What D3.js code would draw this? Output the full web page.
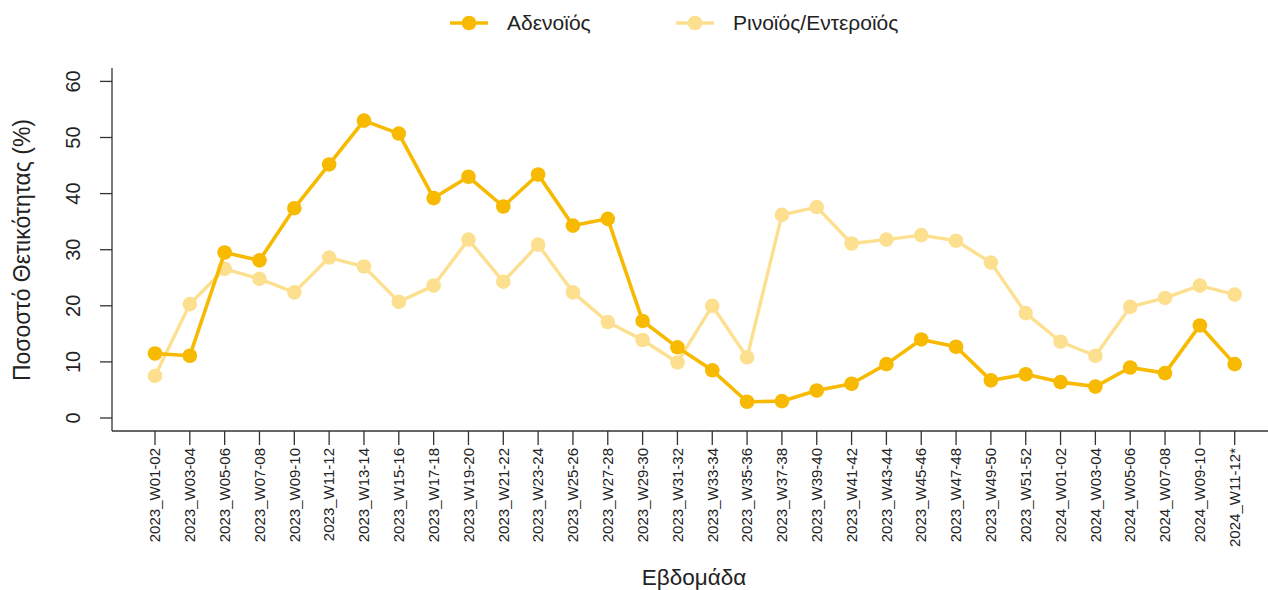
<!DOCTYPE html>
<html>
<head>
<meta charset="utf-8">
<script src="https://cdn.jsdelivr.net/npm/d3@7"></script>
<style>
  html, body { margin: 0; padding: 0; background: #fff; }
  svg { display: block; font-family: "Liberation Sans", Arial, sans-serif; }
</style>
</head>
<body>
<svg id="chart" width="1268" height="590"></svg>
<script>
const weeks = [
  "2023_W01-02","2023_W03-04","2023_W05-06","2023_W07-08","2023_W09-10","2023_W11-12",
  "2023_W13-14","2023_W15-16","2023_W17-18","2023_W19-20","2023_W21-22","2023_W23-24",
  "2023_W25-26","2023_W27-28","2023_W29-30","2023_W31-32","2023_W33-34","2023_W35-36",
  "2023_W37-38","2023_W39-40","2023_W41-42","2023_W43-44","2023_W45-46","2023_W47-48",
  "2023_W49-50","2023_W51-52","2024_W01-02","2024_W03-04","2024_W05-06","2024_W07-08",
  "2024_W09-10","2024_W11-12*"
];
const adeno = [11.5, 11.1, 29.5, 28.1, 37.4, 45.2, 53.0, 50.7, 39.2, 43.0, 37.7, 43.4,
  34.3, 35.5, 17.3, 12.6, 8.5, 2.9, 3.0, 4.9, 6.1, 9.6, 14.0, 12.7, 6.7, 7.8, 6.4, 5.6,
  9.0, 8.0, 16.5, 9.6];
const rhino = [7.5, 20.3, 26.6, 24.8, 22.4, 28.6, 27.0, 20.7, 23.6, 31.8, 24.3, 30.9,
  22.4, 17.1, 13.9, 9.9, 20.0, 10.8, 36.2, 37.6, 31.1, 31.8, 32.6, 31.6, 27.7, 18.7,
  13.6, 11.1, 19.8, 21.4, 23.6, 22.0];
const yTicks = [0, 10, 20, 30, 40, 50, 60];
const seriesNames = ["Αδενοϊός", "Ρινοϊός/Εντεροϊός"];
const yTitle = "Ποσοστό Θετικότητας (%)";
const xTitle = "Εβδομάδα";

const colors = ["#F7BA00", "#FDE08F"];
const series = [
  { name: seriesNames[1], values: rhino, color: colors[1], width: 3.4, r: 7.3 },
  { name: seriesNames[0], values: adeno, color: colors[0], width: 3.6, r: 7.3 }
];

const svg = d3.select("#chart");
const axisColor = "#333";

// scales
const x = d3.scalePoint().domain(weeks).range([155, 1234.7]);
const y = d3.scaleLinear().domain([0, 60]).range([418, 81.4]);

// y axis
const yAxisG = svg.append("g").attr("transform", "translate(112,0)");
yAxisG.append("line").attr("x1", 0).attr("x2", 0).attr("y1", 68).attr("y2", 431)
  .attr("stroke", axisColor).attr("stroke-width", 1.3);
yAxisG.selectAll("line.tick").data(yTicks).join("line").attr("class", "tick")
  .attr("x1", -12).attr("x2", 0)
  .attr("y1", d => y(d)).attr("y2", d => y(d))
  .attr("stroke", axisColor).attr("stroke-width", 1.3);
yAxisG.selectAll("text").data(yTicks).join("text")
  .attr("transform", d => `translate(-39,${y(d)}) rotate(-90)`)
  .attr("text-anchor", "middle")
  .attr("dy", "0.35em")
  .attr("font-size", 20)
  .attr("fill", "#222")
  .text(d => d);

// x axis
const xAxisG = svg.append("g").attr("transform", "translate(0,431)");
xAxisG.append("line").attr("x1", 112).attr("x2", 1268).attr("y1", 0).attr("y2", 0)
  .attr("stroke", axisColor).attr("stroke-width", 1.3);
xAxisG.selectAll("line.tick").data(weeks).join("line").attr("class", "tick")
  .attr("x1", d => x(d)).attr("x2", d => x(d))
  .attr("y1", 0).attr("y2", 14)
  .attr("stroke", axisColor).attr("stroke-width", 1.3);
xAxisG.selectAll("text").data(weeks).join("text")
  .attr("transform", d => `translate(${x(d)},17) rotate(-90)`)
  .attr("text-anchor", "end")
  .attr("dy", "0.35em")
  .attr("font-size", 15)
  .attr("fill", "#222")
  .text(d => d);

// titles
svg.append("text")
  .attr("transform", "translate(22,250) rotate(-90)")
  .attr("text-anchor", "middle")
  .attr("dy", "0.35em")
  .attr("font-size", 23)
  .attr("fill", "#222")
  .text(yTitle);
svg.append("text")
  .attr("x", 694).attr("y", 585)
  .attr("text-anchor", "middle")
  .attr("font-size", 22.5)
  .attr("fill", "#222")
  .text(xTitle);

// lines + points
const line = d3.line().x((d, i) => x(weeks[i])).y(d => y(d));
series.forEach(s => {
  const g = svg.append("g");
  g.append("path").datum(s.values)
    .attr("d", line)
    .attr("fill", "none")
    .attr("stroke", s.color)
    .attr("stroke-width", s.width)
    .attr("stroke-linejoin", "round");
  g.selectAll("circle").data(s.values).join("circle")
    .attr("cx", (d, i) => x(weeks[i]))
    .attr("cy", d => y(d))
    .attr("r", s.r)
    .attr("fill", s.color);
});

// legend
const legendItems = [
  { name: seriesNames[0], color: colors[0], x0: 450 },
  { name: seriesNames[1], color: colors[1], x0: 676 }
];
const lg = svg.append("g");
legendItems.forEach(it => {
  lg.append("line").attr("x1", it.x0).attr("x2", it.x0 + 38).attr("y1", 23).attr("y2", 23)
    .attr("stroke", it.color).attr("stroke-width", 3.4);
  lg.append("circle").attr("cx", it.x0 + 19).attr("cy", 23).attr("r", 7.3).attr("fill", it.color);
  lg.append("text").attr("x", it.x0 + 57).attr("y", 23).attr("dy", "0.35em")
    .attr("font-size", 21).attr("fill", "#222").text(it.name);
});
</script>
</body>
</html>
